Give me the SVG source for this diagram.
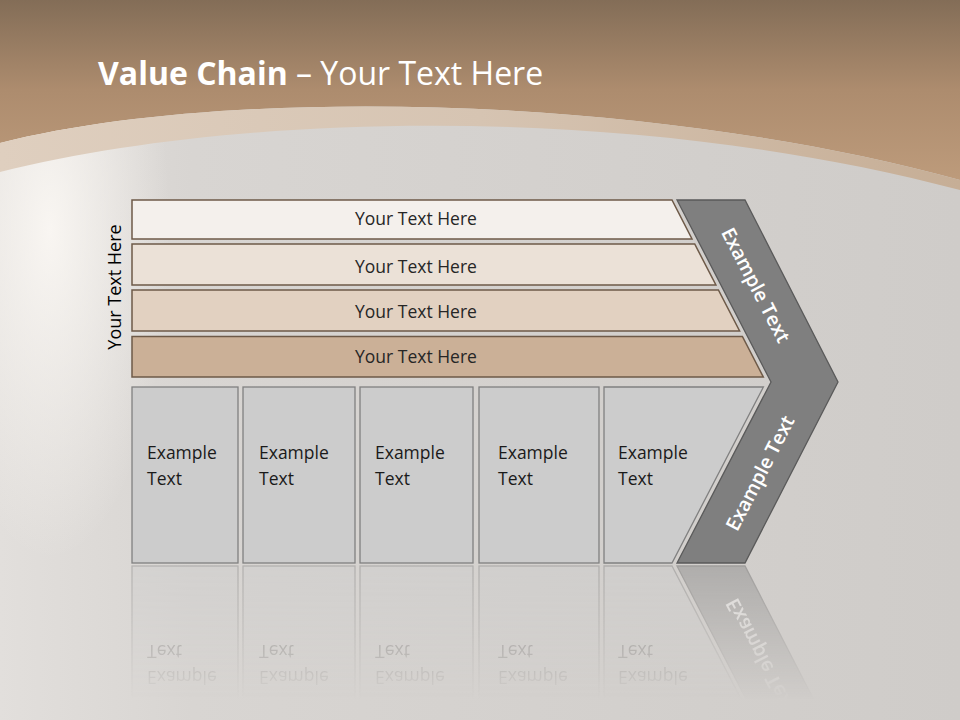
<svg xmlns="http://www.w3.org/2000/svg" xmlns:xlink="http://www.w3.org/1999/xlink" width="960" height="720" viewBox="0 0 960 720">
<defs>
<linearGradient id="brown" x1="0" y1="0" x2="0" y2="1">
<stop offset="0" stop-color="#836d57"/>
<stop offset="0.5" stop-color="#ad8c6e"/>
<stop offset="1" stop-color="#bd9b7b"/>
</linearGradient>
<linearGradient id="base" x1="0" y1="0" x2="1" y2="0">
<stop offset="0" stop-color="#e2dfdc"/>
<stop offset="0.2" stop-color="#d8d5d2"/>
<stop offset="1" stop-color="#cfccc9"/>
</linearGradient>
<radialGradient id="streak" gradientUnits="userSpaceOnUse" cx="50" cy="230" r="1" gradientTransform="translate(50,230) scale(120,330) translate(-50,-230)">
<stop offset="0" stop-color="#fdfaf6" stop-opacity="0.85"/>
<stop offset="0.5" stop-color="#fbf8f4" stop-opacity="0.45"/>
<stop offset="1" stop-color="#fbf8f4" stop-opacity="0"/>
</radialGradient>
<linearGradient id="band" x1="0" y1="0" x2="1" y2="0">
<stop offset="0" stop-color="#dfcfbf"/>
<stop offset="0.5" stop-color="#d6c4b2"/>
<stop offset="1" stop-color="#c6ae96"/>
</linearGradient>
<linearGradient id="fadeG" gradientUnits="userSpaceOnUse" x1="0" y1="565" x2="0" y2="700">
<stop offset="0" stop-color="#fff" stop-opacity="0.42"/>
<stop offset="1" stop-color="#fff" stop-opacity="0"/>
</linearGradient>
<mask id="fade" maskUnits="userSpaceOnUse" x="0" y="560" width="960" height="160">
<rect x="0" y="560" width="960" height="160" fill="url(#fadeG)"/>
</mask>
<style>
.bar{stroke:#6e5a48;stroke-width:1.5}
.bt{font-family:"Open Sans","DejaVu Sans",sans-serif;font-size:17.5px;fill:#262626;text-anchor:middle}
.box{fill:#cccccc;stroke:#808080;stroke-width:1.3}
.xt{font-family:"Open Sans","Liberation Sans",sans-serif;font-size:17.5px;fill:#1a1a1a}
.ct{font-family:"Open Sans","Liberation Sans",sans-serif;font-size:19.5px;font-weight:600;fill:#ffffff;text-anchor:middle}
</style>
</defs>

<!-- background -->
<rect x="0" y="0" width="960" height="720" fill="url(#base)"/>
<rect x="0" y="100" width="300" height="620" fill="url(#streak)"/>
<path d="M0,0 H960 V180 C650,95 230,85 0,143 Z" fill="url(#brown)"/>
<path d="M0,143 C230,85 650,95 960,180 V190 C640,105 250,110 0,172 Z" fill="url(#band)"/>

<text x="98" y="85" font-family="'Open Sans','Liberation Sans',sans-serif" font-size="32" fill="#ffffff"><tspan font-weight="700">Value Chain</tspan> – Your Text Here</text>

<text transform="translate(121,287) rotate(-90)" font-family="'Open Sans','Liberation Sans',sans-serif" font-size="18" fill="#000000" text-anchor="middle">Your Text Here</text>

<g id="bars">
<g id="bar1"><polygon class="bar" points="132,200 672,200 692,239 132,239" fill="#f4f0ec"/><text class="bt" x="416" y="224.5">Your Text Here</text></g>
<g id="bar2"><polygon class="bar" points="132,244 694.7,244 715.9,285 132,285" fill="#ebe1d7"/><text class="bt" x="416" y="272.5">Your Text Here</text></g>
<g id="bar3"><polygon class="bar" points="132,290 718.4,290 739.6,331 132,331" fill="#e2d1c1"/><text class="bt" x="416" y="317.5">Your Text Here</text></g>
<g id="bar4"><polygon class="bar" points="132,336.5 742.4,336.5 763.3,377 132,377" fill="#cbb097"/><text class="bt" x="416" y="362.5">Your Text Here</text></g>
</g>

<g id="boxes">
<g id="box1"><rect class="box" x="132" y="387" width="106" height="176"/><text class="xt" x="147" y="458.5">Example</text><text class="xt" x="147" y="484.5">Text</text></g>
<g id="box2"><rect class="box" x="243" y="387" width="112" height="176"/><text class="xt" x="259" y="458.5">Example</text><text class="xt" x="259" y="484.5">Text</text></g>
<g id="box3"><rect class="box" x="360" y="387" width="113" height="176"/><text class="xt" x="375" y="458.5">Example</text><text class="xt" x="375" y="484.5">Text</text></g>
<g id="box4"><rect class="box" x="479" y="387" width="120" height="176"/><text class="xt" x="498" y="458.5">Example</text><text class="xt" x="498" y="484.5">Text</text></g>
<g id="box5"><polygon class="box" points="604,387 763.4,387 672,563 604,563"/><text class="xt" x="618" y="458.5">Example</text><text class="xt" x="618" y="484.5">Text</text></g>
</g>

<g id="chevron">
<polygon points="677,200 745,200 838,382 745,563 677,563 771,382" fill="#7f7f7f" stroke="#5a5a5a" stroke-width="1.3"/>
<text class="ct" transform="translate(756,285) rotate(62.7)" dy="7">Example Text</text>
<text class="ct" transform="translate(760,473) rotate(-62.7)" dy="7">Example Text</text>
</g>

<g id="reflection" mask="url(#fade)">
<g transform="matrix(1,0,0,-1,0,1129)">
<use xlink:href="#boxes"/>
<use xlink:href="#chevron"/>
</g>
</g>
</svg>
